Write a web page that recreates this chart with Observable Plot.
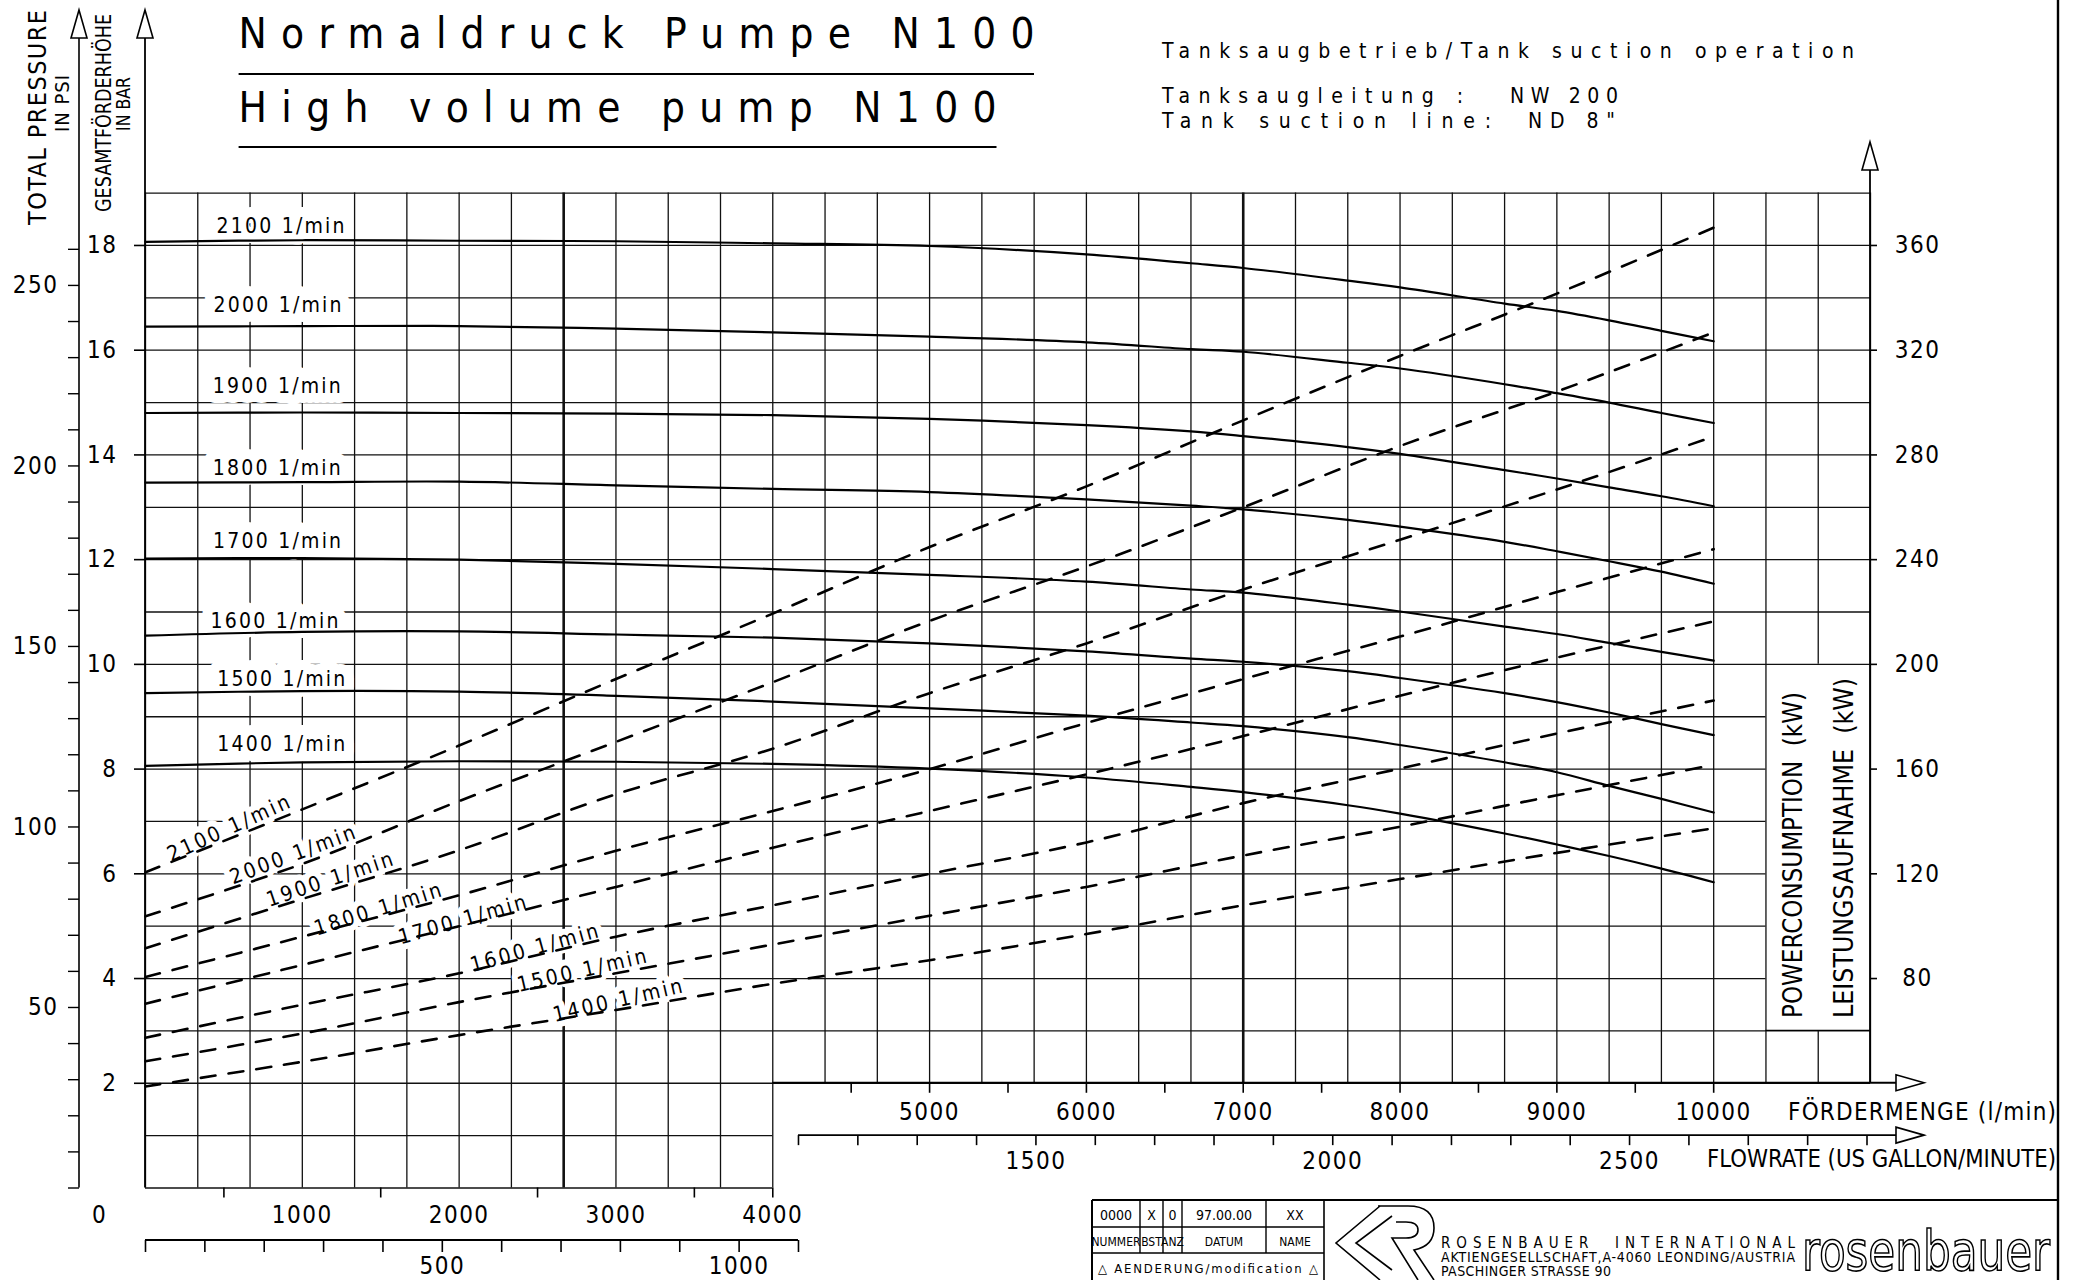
<!DOCTYPE html>
<html><head><meta charset="utf-8">
<script src="https://cdn.jsdelivr.net/npm/d3@7"></script>
<script src="https://cdn.jsdelivr.net/npm/@observablehq/plot@0.6"></script>
<style>
html,body{margin:0;padding:0;background:#fff;}
#chart{position:relative;width:2073px;height:1280px;overflow:hidden;background:#fff;}
svg text{font-family:"Liberation Sans Narrow","DejaVu Sans Condensed","Liberation Sans",Arial,sans-serif;}
g[aria-label$="tick label"] text{letter-spacing:1.5px;}
</style></head><body><div id="chart"></div>
<script>
// ---------- data ----------
const PSI_PER_BAR = 14.5038, KW_PER_BAR = 20, L_PER_GAL = 3.78541;
const speeds = [2100, 2000, 1900, 1800, 1700, 1600, 1500, 1400];

// pressure (bar) vs flow (l/min), solid curves
const headFlow = [0,1000,2000,3000,4000,5000,6000,6667,7000,7667,8000,8667,9000,9333,9667,10000];
const head2100 = [18.07,18.10,18.09,18.08,18.04,17.99,17.83,17.66,17.57,17.33,17.20,16.89,16.75,16.57,16.37,16.17];
const head2000 = [16.45,16.46,16.46,16.41,16.34,16.26,16.15,16.02,15.97,15.76,15.65,15.35,15.18,15.00,14.80,14.61];
const head1900 = [14.80,14.81,14.80,14.79,14.76,14.69,14.57,14.45,14.36,14.15,14.02,13.71,13.55,13.38,13.21,13.02];
const head1800 = [13.47,13.48,13.49,13.42,13.35,13.29,13.15,13.03,12.96,12.76,12.63,12.34,12.16,11.97,11.77,11.54];
const head1700 = [12.02,12.03,12.00,11.92,11.82,11.71,11.58,11.43,11.37,11.14,11.01,10.72,10.58,10.41,10.24,10.07];
const head1600 = [10.55,10.62,10.63,10.57,10.51,10.40,10.25,10.11,10.05,9.87,9.74,9.45,9.28,9.08,8.86,8.65];
const head1500 = [9.45,9.49,9.48,9.40,9.29,9.16,9.02,8.89,8.82,8.61,8.46,8.13,7.94,7.68,7.43,7.17];
const head1400 = [8.06,8.13,8.15,8.14,8.10,8.01,7.84,7.66,7.56,7.31,7.15,6.77,6.56,6.34,6.10,5.84];

// power consumption (kW) vs flow (l/min), dashed curves
const powerFlow = [0,1000,2000,3000,4000,5000,6000,7000,8000,9000,10000];
const power2100 = [120.6,144.6,169.0,194.4,219.4,244.8,268.0,293.2,317.8,341.6,366.8];
const power2000 = [103.8,123.8,147.8,170.4,193.2,216.6,237.4,260.0,283.4,304.2,326.8];
const power1900 = [91.6,110.4,129.0,150.4,167.8,189.0,208.0,228.6,247.6,266.8,287.0];
const power1800 = [80.6,96.0,111.8,128.8,144.0,160.0,177.6,194.4,210.6,227.6,244.0];
const power1700 = [70.4,85.2,100.0,115.0,130.0,144.0,158.0,172.6,188.0,202.6,216.4];
const power1600 = [57.4,70.0,82.0,96.0,108.0,120.0,132.0,147.0,160.2,173.6,186.2];
const power1500 = [48.4,59.0,71.0,82.0,93.0,104.0,115.0,127.0,138.0,150.0,161.6];
const power1400 = [38.8,48.2,58.4,68.0,78.0,87.0,97.0,108.0,118.0,128.0,137.4];

// curve label anchors (data units)
const headLabelFlow = [861,842,837,837,839,823,866,866];
const headLabelBar  = [18.36,16.86,15.31,13.74,12.35,10.82,9.71,8.47];
const powerLabelFlow = [529,937,1175,1481,2020,2479,2782,3010];
const powerLabelKw   = [137.4,127.2,117.8,106.4,102.4,91.6,83.0,71.6];
const powerLabelAngle = [-24.5,-20.5,-18.5,-17.5,-16,-15.5,-13,-13];

// ticks
const barTicks = [2,4,6,8,10,12,14,16,18];
const psiTicks = [0,10,20,30,40,50,60,70,80,90,100,110,120,130,140,150,160,170,180,190,200,210,220,230,240,250,260];
const psiLabels = [50,100,150,200,250];
const kwTicks = [80,120,160,200,240,280,320,360];
const flowLabelsLeft = [1000,2000,3000,4000];
const flowTicksLeft = [500,1500,2500,3500,4000];
const flowTicksRight = [4500,5000,5500,6000,6500,7000,7500,8000,8500,9000,9500,10000];
const flowLabelsRight = [5000,6000,7000,8000,9000,10000];
const galTicksLeft = [0,100,200,300,400,500,600,700,800,900,1000,1100];
const galLabelsLeft = [500,1000];
const galTicksRight = [1100,1200,1300,1400,1500,1600,1700,1800,1900,2000,2100,2200,2300,2400,2500,2600,2700,2800,2900];
const galLabelsRight = [1500,2000,2500];

// ---------- tables ----------
const headSeries = [head2100,head2000,head1900,head1800,head1700,head1600,head1500,head1400];
const powerSeries = [power2100,power2000,power1900,power1800,power1700,power1600,power1500,power1400];
const headRows = speeds.flatMap((s,i) => headFlow.map((q,j) => ({speed:s, flow:q, bar:headSeries[i][j]})));
const powerRows = speeds.flatMap((s,i) => powerFlow.map((q,j) => ({speed:s, flow:q, kw:powerSeries[i][j]})));
const headLabels = speeds.map((s,i) => ({flow:headLabelFlow[i], bar:headLabelBar[i], text:`${s} 1/min`}));
const powerLabels = speeds.map((s,i) => ({flow:powerLabelFlow[i], kw:powerLabelKw[i], rot:powerLabelAngle[i], text:`${s} 1/min`}));

// grid (every 1/3 of 1000 l/min, every 1 bar)
const X_MAX = 11000, Y_MAX = 19, STEP = 1000/3;
const vGrid = d3.range(0, 34).flatMap(k => {
  const q = k*STEP, y1 = q <= 4000.5 ? 0 : 2;
  const w = (k === 8 || k === 21) ? 2.6 : 1.3;
  if (k === 32) return [{x:q, y1:2, y2:3, w}, {x:q, y1:10, y2:Y_MAX, w}];
  return [{x:q, y1, y2:Y_MAX, w}];
});
const hGrid = d3.range(0, 20).map(b => ({y:b, x1:0, x2: b < 2 ? 4000 : (b >= 4 && b <= 9 ? 31*STEP : X_MAX)}));

// ---------- layout ----------
const W = 2073, H = 1280, mL = 145, mR = 203, mT = 192.6, mB = 92.5;
const pxPerBar = (H - mT - mB) / Y_MAX;
const FONT = '"Liberation Sans Narrow","DejaVu Sans Condensed","Liberation Sans",Arial,sans-serif';

function decorations(index, scales) {
  const X = scales.x, Y = scales.y;
  const g = d3.create("svg:g").attr("fill", "none").attr("stroke", "#000");
  const ln = (x1,y1,x2,y2,w=1.6) => g.append("line").attr("x1",x1).attr("y1",y1).attr("x2",x2).attr("y2",y2).attr("stroke-width",w);
  const arrowUp = (x, tip) => g.append("path").attr("d",`M${x},${tip}L${x+8},${tip+28}L${x-8},${tip+28}Z`).attr("fill","#fff").attr("stroke-width",1.6);
  const arrowRight = (tip, y) => g.append("path").attr("d",`M${tip},${y}L${tip-28},${y-8}L${tip-28},${y+8}Z`).attr("fill","#fff").attr("stroke-width",1.6);
  const txt = (s, x, y, size, len, opts = {}) => {
    const t = g.append("text").attr("x",x).attr("y",y).attr("font-size",size).attr("fill","#000").attr("stroke","none")
      .attr("text-anchor", opts.anchor || "start").text(s);
    if (len) t.attr("data-len", len);
    if (opts.rotate) t.attr("transform", `rotate(${opts.rotate},${x},${y})`);
    return t;
  };
  // left axes
  const xPsi = X(0) - 66;
  ln(xPsi, Y(0), xPsi, 38); arrowUp(xPsi, 10);
  ln(X(0), Y(0), X(0), 38, 1.8); arrowUp(X(0), 10);
  // right kW axis
  ln(X(X_MAX), Y(2), X(X_MAX), 169, 1.8); arrowUp(X(X_MAX), 142);
  // right flow axis (l/min) and gallons
  ln(X(4000), Y(2), 1896, Y(2), 1.8); arrowRight(1924, Y(2));
  ln(X(1100*L_PER_GAL), Y(1), 1896, Y(1), 1.6); arrowRight(1924, Y(1));
  // left gallon axis
  ln(X(0), Y(0)+52.5, X(1100*L_PER_GAL), Y(0)+52.5, 1.8);
  // power box
  ln(X(31*STEP), Y(3), X(X_MAX), Y(3), 1.3);
  // axis titles
  txt("TOTAL PRESSURE", 46, 225, 25, 215, {rotate:-90});
  txt("IN PSI", 69, 132, 20, 57, {rotate:-90});
  txt("GESAMTFÖRDERHÖHE", 111, 212, 22, 198, {rotate:-90});
  txt("IN BAR", 130, 131, 20, 54, {rotate:-90});
  txt("POWERCONSUMPTION  (kW)", 1802, 1018, 27, 326, {rotate:-90});
  txt("LEISTUNGSAUFNAHME  (kW)", 1853, 1018, 27, 340, {rotate:-90});
  txt("FÖRDERMENGE (l/min)", 1788, 1120, 24, 268);
  txt("FLOWRATE (US GALLON/MINUTE)", 1707, 1167, 24, 349);
  // titles
  txt("Normaldruck Pumpe N100", 238.6, 48, 42, 796);
  ln(238.6, 74, 1034, 74, 2);
  txt("High volume pump N100", 238.6, 122, 42, 758);
  ln(238.6, 147, 996.5, 147, 2);
  txt("Tanksaugbetrieb/Tank suction operation", 1162, 58, 21, 692);
  txt("Tanksaugleitung :", 1162, 103, 21, 301);
  txt("NW 200", 1510, 103, 21, 108);
  txt("Tank suction line:", 1162, 128, 21, 329);
  txt("ND 8\"", 1528, 128, 21, 87);
  // frame + title block
  ln(2058, 0, 2058, 1280, 2.4);
  ln(1092, 1200, 2058, 1200, 2);
  ln(1092, 1200, 1092, 1280, 2);
  ln(1092, 1227, 1324, 1227, 1.4);
  ln(1092, 1253, 1324, 1253, 1.4);
  ln(1324, 1200, 1324, 1280, 1.6);
  [1140, 1163, 1182, 1266].forEach(x => ln(x, 1200, x, 1253, 1.4));
  const cells = [["0000",1116],["X",1151.5],["0",1172.5],["97.00.00",1224],["XX",1295]];
  cells.forEach(([s,x]) => txt(s, x, 1220, 14, null, {anchor:"middle"}));
  const heads = [["NUMMER",1116],["BST",1151.5],["ANZ",1172.5],["DATUM",1224],["NAME",1295]];
  heads.forEach(([s,x]) => txt(s, x, 1246, 12, null, {anchor:"middle"}));
  txt("\u25B3 AENDERUNG/modification \u25B3", 1098, 1273, 13, 220);
  // R emblem
  g.append("path").attr("d","M1380,1206 L1336,1243 L1380,1280 M1392,1216 L1356,1243 L1392,1270").attr("stroke-width",1.6);
  g.append("path").attr("d","M1378,1206 L1408,1206 Q1434,1206 1434,1228 Q1434,1246 1414,1250 L1434,1280 M1396,1222 L1406,1222 Q1418,1222 1418,1230 Q1418,1238 1406,1238 L1392,1238 L1418,1280").attr("stroke-width",1.6);
  txt("ROSENBAUER  INTERNATIONAL", 1441, 1248, 15, 354);
  txt("AKTIENGESELLSCHAFT,A-4060 LEONDING/AUSTRIA", 1441, 1262, 14, 354);
  txt("PASCHINGER STRASSE 90", 1441, 1276, 14, 170);
  g.append("text").attr("x",1802).attr("y",1270).attr("font-size",56).attr("fill","#fff").attr("stroke","#000").attr("stroke-width",1.6)
    .attr("text-anchor","start").attr("data-len", 248).text("rosenbauer");
  return g.node();
}

const chart = Plot.plot({
  width: W, height: H,
  marginLeft: mL, marginRight: mR, marginTop: mT, marginBottom: mB,
  style: {fontFamily: FONT, background: "#fff", overflow: "visible"},
  x: {domain: [0, X_MAX]},
  y: {domain: [0, Y_MAX]},
  marks: [
    Plot.ruleX(vGrid, {x: "x", y1: "y1", y2: "y2", stroke: "#111", strokeWidth: "w"}),
    Plot.ruleY(hGrid, {y: "y", x1: "x1", x2: "x2", stroke: "#111", strokeWidth: 1.3}),
    // label halos
    Plot.text(headLabels, {x: "flow", y: "bar", text: "text", fontSize: 21, fill: "#fff", stroke: "#fff", strokeWidth: 20, strokeLinejoin: "round"}),
    Plot.text(powerLabels, {x: "flow", y: d => d.kw / KW_PER_BAR, text: "text", rotate: "rot", fontSize: 21, fill: "#fff", stroke: "#fff", strokeWidth: 12}),
    // curves
    Plot.line(powerRows, {x: "flow", y: d => d.kw / KW_PER_BAR, z: "speed", curve: "catmull-rom", stroke: "#000", strokeWidth: 2.6, strokeDasharray: "15,13"}),
    Plot.line(headRows, {x: "flow", y: "bar", z: "speed", curve: "catmull-rom", stroke: "#000", strokeWidth: 2.2}),
    // labels
    Plot.text(headLabels, {x: "flow", y: "bar", text: "text", fontSize: 21, fill: "#000"}),
    Plot.text(powerLabels, {x: "flow", y: d => d.kw / KW_PER_BAR, text: "text", rotate: "rot", fontSize: 21, fill: "#000"}),
    // bar axis (left)
    Plot.axisY(barTicks, {anchor: "left", tickSize: 11, tickPadding: 17, fontSize: 24, strokeWidth: 1.6, tickFormat: d => String(d), label: null}),
    // psi axis
    Plot.axisY(psiTicks.map(p => p / PSI_PER_BAR), {anchor: "left", dx: -66, tickSize: 11, tickFormat: () => "", strokeWidth: 1.4, label: null}),
    Plot.axisY(psiLabels.map(p => p / PSI_PER_BAR), {anchor: "left", dx: -66, tickSize: 0, tickPadding: 21, fontSize: 24, tickFormat: d => String(Math.round(d * PSI_PER_BAR)), label: null}),
    // kW axis
    Plot.axisY(kwTicks.map(k => k / KW_PER_BAR), {anchor: "right", tickSize: 6, tickPadding: 41, textAnchor: "middle", fontSize: 24, strokeWidth: 1.6, tickFormat: d => String(Math.round(d * KW_PER_BAR)), label: null}),
    // flow axes (l/min)
    Plot.axisX(flowTicksLeft, {anchor: "bottom", tickSize: 10, tickFormat: () => "", strokeWidth: 1.6, label: null}),
    Plot.axisX(flowLabelsLeft, {anchor: "bottom", tickSize: 0, tickPadding: 17.5, fontSize: 24, tickFormat: d => String(d), label: null}),
    Plot.axisX([0], {anchor: "bottom", tickSize: 0, tickPadding: 17.5, dx: -46, fontSize: 24, tickFormat: d => String(d), label: null}),
    Plot.axisX(flowTicksRight, {anchor: "bottom", dy: -2 * pxPerBar, tickSize: 10, tickPadding: 9.5, fontSize: 24, strokeWidth: 1.6,
      tickFormat: d => flowLabelsRight.includes(d) ? String(d) : "", label: null}),
    // gallon axes
    Plot.axisX(galTicksLeft.map(g => g * L_PER_GAL), {anchor: "bottom", dy: 52.5, tickSize: 12, tickPadding: 4, fontSize: 24, strokeWidth: 1.6,
      tickFormat: d => { const g = Math.round(d / L_PER_GAL); return galLabelsLeft.includes(g) ? String(g) : ""; }, label: null}),
    Plot.axisX(galTicksRight.map(g => g * L_PER_GAL), {anchor: "bottom", dy: -pxPerBar, tickSize: 10, tickPadding: 6, fontSize: 24, strokeWidth: 1.6,
      tickFormat: d => { const g = Math.round(d / L_PER_GAL); return galLabelsRight.includes(g) ? String(g) : ""; }, label: null}),
    decorations
  ]
});
document.getElementById("chart").appendChild(chart);
// fit fixed-length texts: speed labels (upright = head curves, rotated = power curves)
chart.querySelectorAll("text").forEach(t => {
  if (/^\d{4} 1\/min$/.test(t.textContent)) {
    const rotated = /rotate/.test(t.getAttribute("transform") || "");
    t.setAttribute("data-len", rotated ? 132 : 128);
  }
});
chart.querySelectorAll("text[data-len]").forEach(t => {
  const target = +t.getAttribute("data-len");
  const nat = t.getComputedTextLength();
  t.setAttribute("textLength", target);
  t.setAttribute("lengthAdjust", nat > target ? "spacingAndGlyphs" : "spacing");
});
</script></body></html>
